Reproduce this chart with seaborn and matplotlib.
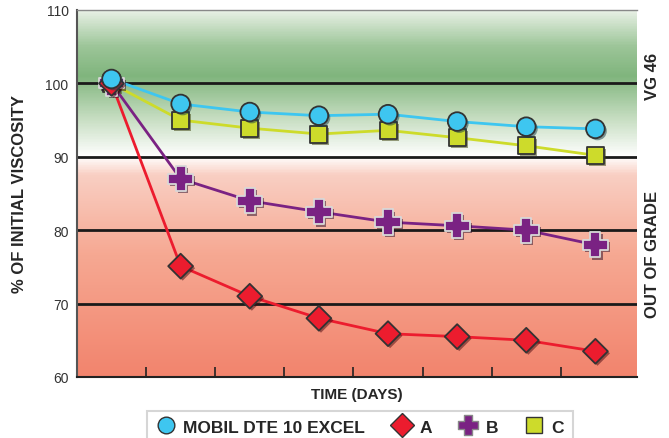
import numpy as np
import pandas as pd
import matplotlib
matplotlib.use("Agg")
import matplotlib.pyplot as plt
import matplotlib.patheffects as pe
from matplotlib.colors import LinearSegmentedColormap
from matplotlib.lines import Line2D
from matplotlib.path import Path
import seaborn as sns

# Datos
days = [0, 1, 2, 3, 4, 5, 6, 7]
mobil = [100.6, 97.2, 96.1, 95.6, 95.8, 94.8, 94.1, 93.8]
oil_a = [100.0, 75.1, 71.0, 68.0, 65.9, 65.5, 65.0, 63.5]
oil_b = [100.0, 87.0, 84.0, 82.5, 81.1, 80.6, 80.0, 78.0]
oil_c = [100.0, 95.0, 93.9, 93.1, 93.6, 92.6, 91.5, 90.2]
y_ticks = [60, 70, 80, 90, 100, 110]
grid_levels = [70, 80, 90, 100]

sns.set_theme(style="white")
plt.rcParams['font.family'] = ['Liberation Sans', 'DejaVu Sans']

# Cruz gruesa como marcador
w = 0.4
plus_verts = [(-w, 1), (w, 1), (w, w), (1, w), (1, -w), (w, -w), (w, -1),
              (-w, -1), (-w, -w), (-1, -w), (-1, w), (-w, w), (-w, 1)]
thick_plus = Path(plus_verts, closed=True)

fig = plt.figure(figsize=(6.69, 4.39), dpi=100)
ax = fig.add_axes([0.115, 0.139, 0.837, 0.836])

x_min, x_max = -0.5, 7.6
ax.set_xlim(x_min, x_max)
ax.set_ylim(60, 110)

# Fondo degradado (verde arriba, rojo abajo)
cmap = LinearSegmentedColormap.from_list("bg", [
    (0.0, "#f2846d"), (0.33, "#f6a892"), (0.55, "#f9cfc3"), (0.6, "#ffffff"),
    (0.7, "#c9dfc4"), (0.82, "#80b57d"), (0.9, "#9cc598"), (1.0, "#e9f1e6")])
grad = np.linspace(0, 1, 400).reshape(-1, 1)
ax.imshow(grad, extent=[x_min, x_max, 60, 110], origin="lower", aspect="auto",
          cmap=cmap, zorder=0)

for lv in grid_levels:
    ax.axhline(lv, color="#1a1a1a", lw=2, zorder=1)

shadow = [pe.SimplePatchShadow(offset=(1.5, -1.5), alpha=0.5), pe.Normal()]

df = pd.DataFrame({"day": days, "MOBIL": mobil, "A": oil_a, "B": oil_b, "C": oil_c})

series = [
    ("C", "#cddb2b", "s", "#333333", 150),
    ("B", "#7a2283", thick_plus, "#d8d8d8", 330),
    ("A", "#ec1c2e", "D", "#333333", 160),
    ("MOBIL", "#3ec6f0", "o", "#333333", 180),
]
for i, (col, lc, mk, ec, sz) in enumerate(series):
    sns.lineplot(data=df, x="day", y=col, ax=ax, color=lc, lw=2, zorder=3 + i)
    pts = sns.scatterplot(data=df, x="day", y=col, ax=ax, color=lc, marker=mk,
                          s=sz, edgecolor=ec, linewidth=1.3, zorder=10 + i)
    pts.collections[-1].set_path_effects(shadow)

ax.set_xticks([d + 0.5 for d in days[:-1]])
ax.set_xticklabels([])
ax.tick_params(axis="x", direction="in", length=7, width=1.2, color="#222222", bottom=True)
ax.set_yticks(y_ticks)
ax.set_yticklabels([str(v) for v in y_ticks], fontsize=10, color="#333333")
ax.tick_params(axis="y", length=0, pad=6)

ax.spines["right"].set_visible(False)
ax.spines["top"].set_color("#888888")
ax.spines["top"].set_linewidth(1)
ax.spines["left"].set_color("#555555")
ax.spines["left"].set_linewidth(1.5)
ax.spines["bottom"].set_color("#222222")
ax.spines["bottom"].set_linewidth(1.5)

ax.set_xlabel("TIME (DAYS)", fontsize=11, fontweight="bold", labelpad=4)
ax.set_ylabel("% OF INITIAL VISCOSITY", fontsize=12, fontweight="bold", labelpad=13)

fig.text(0.975, 0.825, "VG 46", rotation=90, fontsize=12, fontweight="bold",
         ha="center", va="center")
fig.text(0.975, 0.42, "OUT OF GRADE", rotation=90, fontsize=12, fontweight="bold",
         ha="center", va="center")

handles = [
    Line2D([], [], ls="", marker="o", markersize=12, markerfacecolor="#3ec6f0", markeredgecolor="#333333"),
    Line2D([], [], ls="", marker="D", markersize=12, markerfacecolor="#ec1c2e", markeredgecolor="#333333"),
    Line2D([], [], ls="", marker=thick_plus, markersize=15, markerfacecolor="#7a2283", markeredgecolor="#888888"),
    Line2D([], [], ls="", marker="s", markersize=12, markerfacecolor="#cddb2b", markeredgecolor="#333333"),
]
leg = fig.legend(handles, ["MOBIL DTE 10 EXCEL", "A", "B", "C"], ncol=4,
                 loc="upper center", bbox_to_anchor=(0.538, 0.082), frameon=True,
                 fancybox=False, handletextpad=0.4, columnspacing=1.5, handlelength=1.2,
                 prop={"weight": "bold", "size": 12.5}, borderpad=0.5)
leg.get_frame().set_edgecolor("#cccccc")
leg.get_frame().set_linewidth(1.5)

fig.savefig("out.png", dpi=100)
